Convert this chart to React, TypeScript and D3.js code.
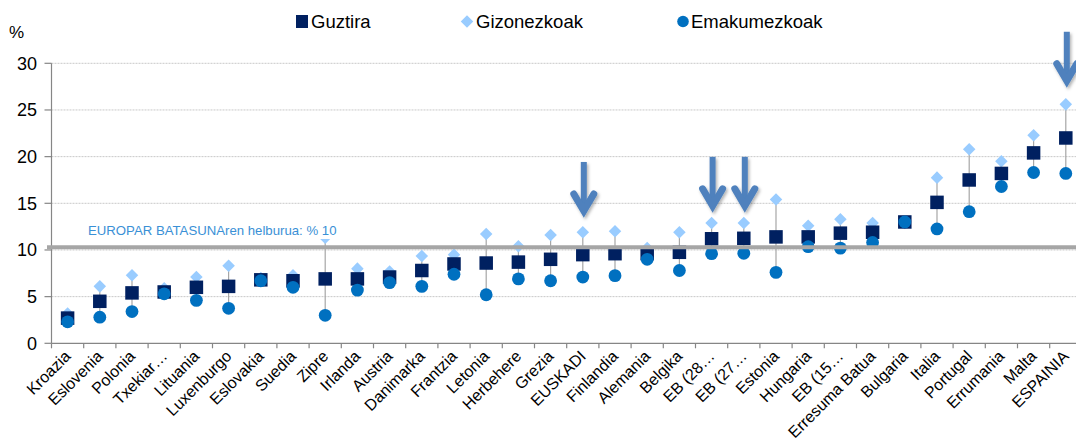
import React from 'react';
import * as d3 from 'd3';

// categories, sorted by total value
const categories = [
  'Kroazia', 'Eslovenia', 'Polonia', 'Txekiar…', 'Lituania', 'Luxenburgo', 'Eslovakia', 'Suedia',
  'Zipre', 'Irlanda', 'Austria', 'Danimarka', 'Frantzia', 'Letonia', 'Herbehere', 'Grezia',
  'EUSKADI', 'Finlandia', 'Alemania', 'Belgika', 'EB (28…', 'EB (27…', 'Estonia', 'Hungaria',
  'EB (15…', 'Erresuma Batua', 'Bulgaria', 'Italia', 'Portugal', 'Errumania', 'Malta', 'ESPAINIA',
];

const guztira = [
  2.7, 4.5, 5.4, 5.5, 6.0, 6.1, 6.8, 6.7,
  6.9, 6.9, 7.1, 7.8, 8.5, 8.6, 8.7, 9.0,
  9.5, 9.6, 9.6, 9.75, 11.2, 11.25, 11.4, 11.4,
  11.8, 11.9, 13.0, 15.1, 17.5, 18.2, 20.4, 22.0,
];

const gizonezkoak = [
  3.2, 6.1, 7.3, 5.9, 7.1, 8.3, 7.0, 7.3,
  11.3, 8.0, 7.7, 9.35, 9.5, 11.7, 10.4, 11.6,
  11.9, 12.0, 10.2, 11.9, 12.9, 12.9, 15.4, 12.6,
  13.3, 12.9, 12.9, 17.75, 20.8, 19.5, 22.3, 25.6,
];

const emakumezkoak = [
  2.3, 2.8, 3.4, 5.3, 4.6, 3.75, 6.7, 6.0,
  3.0, 5.7, 6.5, 6.1, 7.4, 5.2, 6.9, 6.7,
  7.1, 7.25, 9.0, 7.8, 9.6, 9.65, 7.6, 10.35,
  10.2, 10.8, 13.0, 12.25, 14.1, 16.8, 18.3, 18.2,
];

const yTicks = [0, 5, 10, 15, 20, 25, 30];

const targetValue = 10.3;
const targetLabel = 'EUROPAR BATASUNAren helburua: % 10';

// arrows pointing at highlighted categories (tip value)
const arrowCategories = ['EUSKADI', 'EB (28…', 'EB (27…', 'ESPAINIA'];
const arrowTips = [13.75, 14.3, 14.3, 27.7];

const W = 1076;
const H = 446;
const FONT = '"Liberation Sans", Arial, sans-serif';

const COL_TOTAL = '#002060';
const COL_MEN = '#99ccff';
const COL_WOMEN = '#0070c0';
const COL_ARROW = '#4f81bd';

export default function App() {
  const x0 = 51.5;
  const x = d3.scaleBand<string>().domain(categories).range([x0, x0 + categories.length * 32.2]).padding(0);
  const y = d3.scaleLinear().domain([0, 30]).range([343.3, 63.3]);
  const cx = (c: string) => (x(c) ?? 0) + x.bandwidth() / 2;

  const diamond = d3.symbol().type(d3.symbolDiamond2).size(100)();
  const boundaries = d3.range(categories.length + 1).map((i) => x0 + i * x.bandwidth());

  return (
    <div style={{ position: 'absolute', left: 0, top: 0 }}>
      <svg width={W} height={H} style={{ display: 'block', fontFamily: FONT }}>
        <defs>
          <filter id="shadow" x="-50%" y="-20%" width="200%" height="150%">
            <feDropShadow dx="1.5" dy="2" stdDeviation="1.5" floodColor="#000" floodOpacity="0.3" />
          </filter>
        </defs>
        <rect width={W} height={H} fill="#fff" />

        {/* gridlines */}
        {yTicks.filter((t) => t > 0).map((t) => (
          <line key={t} x1={x0} x2={W} y1={y(t)} y2={y(t)} stroke="#c8c8c8" strokeWidth={1} strokeDasharray="2,1" />
        ))}

        {/* y axis */}
        <line x1={x0} x2={x0} y1={y(30)} y2={y(0)} stroke="#868686" strokeWidth={1.2} />
        {yTicks.map((t) => (
          <g key={t}>
            <line x1={x0 - 7} x2={x0} y1={y(t)} y2={y(t)} stroke="#868686" strokeWidth={1.2} />
            <text x={37} y={y(t)} dy="0.36em" textAnchor="end" fontSize={18} fill="#000">{t}</text>
          </g>
        ))}
        <text x={9} y={38} fontSize={17} fill="#000">%</text>

        {/* x axis */}
        <line x1={x0} x2={W} y1={y(0)} y2={y(0)} stroke="#868686" strokeWidth={1.2} />
        {boundaries.map((b, i) => (
          <line key={i} x1={b} x2={b} y1={y(0)} y2={y(0) + 5} stroke="#868686" strokeWidth={1.2} />
        ))}
        {categories.map((c) => (
          <text key={c} transform={`translate(${cx(c) + 4},${y(0) + 14}) rotate(-45)`} textAnchor="end"
            fontSize={16} fill="#000">{c}</text>
        ))}

        {/* connectors */}
        {categories.map((c, i) => {
          const vals = [guztira[i], gizonezkoak[i], emakumezkoak[i]];
          return (
            <line key={c} x1={cx(c)} x2={cx(c)} y1={y(d3.max(vals)!)} y2={y(d3.min(vals)!)}
              stroke="#a6a6a6" strokeWidth={1.2} />
          );
        })}

        {/* markers */}
        {categories.map((c, i) => (
          <path key={c} d={diamond!} transform={`translate(${cx(c)},${y(gizonezkoak[i])})`} fill={COL_MEN} />
        ))}
        {categories.map((c, i) => (
          <rect key={c} x={cx(c) - 6.75} y={y(guztira[i]) - 6.75} width={13.5} height={13.5} fill={COL_TOTAL} />
        ))}
        {categories.map((c, i) => (
          <circle key={c} cx={cx(c)} cy={y(emakumezkoak[i])} r={6.4} fill={COL_WOMEN} />
        ))}

        {/* target line and label */}
        <line x1={47} x2={W} y1={y(targetValue)} y2={y(targetValue)} stroke="#a6a6a6" strokeWidth={4} />
        <rect x={84} y={222} width={262} height={17} fill="#fff" />
        <text x={88} y={235} fontSize={13.2} fill="#3a90d6">{targetLabel}</text>

        {/* arrows */}
        {arrowCategories.map((c, i) => {
          const ax = cx(c) + 1;
          const tip = y(arrowTips[i]);
          return (
            <g key={c} filter="url(#shadow)" stroke={COL_ARROW} fill="none">
              <line x1={ax} x2={ax} y1={tip - 53} y2={tip - 5} strokeWidth={6} strokeLinecap="butt" />
              <polyline points={`${ax - 10},${tip - 21} ${ax},${tip - 4} ${ax + 10},${tip - 21}`}
                strokeWidth={7} strokeLinecap="round" strokeLinejoin="miter" />
            </g>
          );
        })}

        {/* legend */}
        <rect x={296} y={15} width={12} height={13} fill={COL_TOTAL} />
        <text x={311} y={28} fontSize={18.5} fill="#000">Guztira</text>
        <path d={diamond!} transform="translate(467,21.5)" fill={COL_MEN} />
        <text x={476} y={28} fontSize={18.5} fill="#000">Gizonezkoak</text>
        <circle cx={683} cy={21.5} r={5.8} fill={COL_WOMEN} />
        <text x={691} y={28} fontSize={18.5} fill="#000">Emakumezkoak</text>
      </svg>
    </div>
  );
}
